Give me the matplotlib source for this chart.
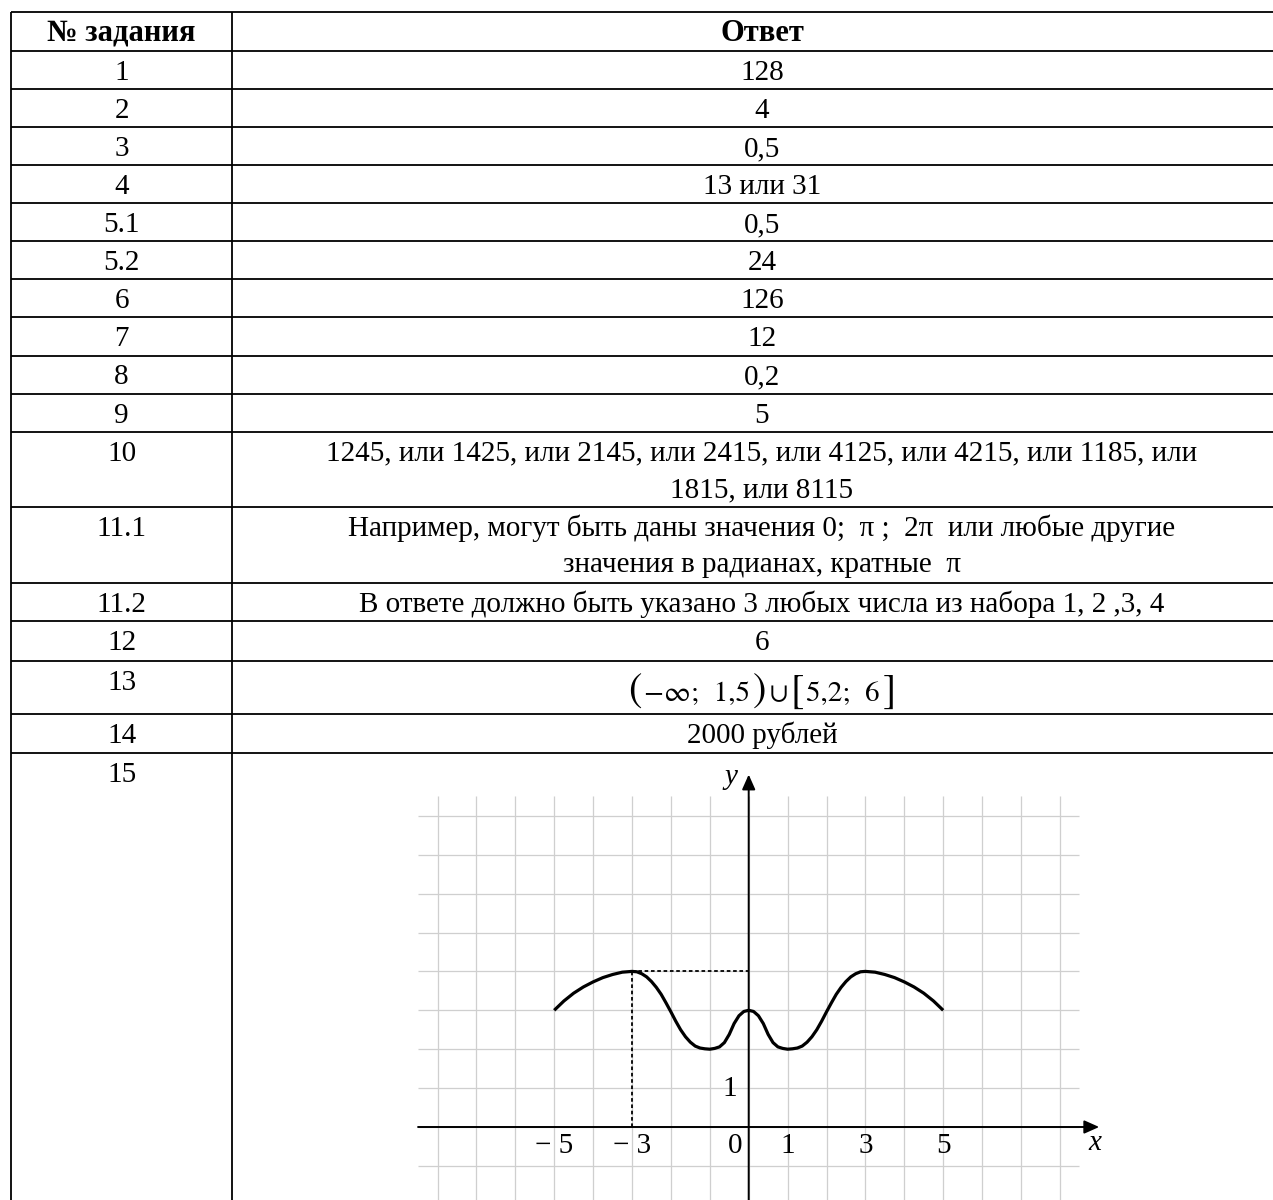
import matplotlib
matplotlib.use('Agg')
import matplotlib.pyplot as plt
from matplotlib.offsetbox import TextArea, HPacker, AnnotationBbox

plt.rcParams['font.family'] = ['Liberation Serif', 'DejaVu Serif']

# ---- table data ----
header = ['№ задания', 'Ответ']
tasks = ['1', '2', '3', '4', '5.1', '5.2', '6', '7', '8', '9', '10',
         '11.1', '11.2', '12', '13', '14', '15']
answers = ['128', '4', '0,5', '13 или 31', '0,5', '24', '126', '12', '0,2', '5',
           '1245, или 1425, или 2145, или 2415, или 4125, или 4215, или 1185, или\n1815, или 8115',
           'Например, могут быть даны значения 0;  π ;  2π  или любые другие\nзначения в радианах, кратные  π',
           'В ответе должно быть указано 3 любых числа из набора 1, 2 ,3, 4',
           '6',
           None,
           '2000 рублей',
           '']
# answer 13 is a formula: (−∞; 1,5)∪[5,2; 6] with tall brackets
formula_parts = ['(', '−∞;  1,5', ')', '∪', '[', '5,2;  6', ']']
formula_big = [True, False, True, False, True, False, True]

# ---- graph of task 15 ----
curve_x = [-5, -4.75, -4.5, -4.25, -4, -3.75, -3.5, -3.25, -3, -2.875, -2.75, -2.625,
           -2.5, -2.375, -2.25, -2.125, -2, -1.875, -1.75, -1.625, -1.5, -1.375,
           -1.25, -1.125, -1, -0.875, -0.75, -0.625, -0.5, -0.375, -0.25, -0.125, 0,
           0.125, 0.25, 0.375, 0.5, 0.625, 0.75, 0.875, 1, 1.125, 1.25, 1.375, 1.5,
           1.625, 1.75, 1.875, 2, 2.125, 2.25, 2.375, 2.5, 2.625, 2.75, 2.875, 3,
           3.25, 3.5, 3.75, 4, 4.25, 4.5, 4.75, 5]
curve_y = [3.0, 3.24, 3.44, 3.6, 3.73, 3.84, 3.92, 3.98, 4.0, 3.99, 3.94, 3.86,
           3.74, 3.59, 3.41, 3.19, 2.96, 2.72, 2.5, 2.32, 2.18, 2.08,
           2.03, 2.01, 2.0, 2.02, 2.06, 2.17, 2.38, 2.66, 2.86, 2.97, 3.0,
           2.97, 2.86, 2.66, 2.38, 2.17, 2.06, 2.02, 2.0, 2.01, 2.03, 2.08, 2.18,
           2.32, 2.5, 2.72, 2.96, 3.19, 3.41, 3.59, 3.74, 3.86, 3.94, 3.99, 4.0,
           3.98, 3.92, 3.84, 3.73, 3.6, 3.44, 3.24, 3.0]
peak_x, peak_y = -3, 4
x_ticks = [-5, -3, 0, 1, 3, 5]
x_tick_labels = ['− 5', '− 3', '0', '1', '3', '5']
y_ticks = [1]
y_tick_labels = ['1']

W, H = 1273, 1200
fig = plt.figure(figsize=(W / 100, H / 100), dpi=100)

# table drawn in pixel coordinates
ax0 = fig.add_axes([0, 0, 1, 1])
ax0.set_xlim(0, W)
ax0.set_ylim(H, 0)
ax0.axis('off')

left, mid = 11, 232.3
row_h = [38.7] + [38.1] * 10 + [75, 76.6, 38, 39.4, 53.6, 38.4]
tops = [12]
for h in row_h:
    tops.append(tops[-1] + h)

lw = 1.3
ax0.hlines(tops, left, W, color='black', lw=lw)
ax0.vlines([left, mid], tops[0], H, color='black', lw=lw)

c1 = (left + mid) / 2
c2 = 762
fs = 21
ax0.text(c1, tops[0] + 29, header[0], ha='center', va='baseline', fontsize=22, fontweight='bold')
ax0.text(c2, tops[0] + 29, header[1], ha='center', va='baseline', fontsize=22, fontweight='bold')

line_gap = 36.5
for i, (t, a) in enumerate(zip(tasks, answers)):
    top = tops[i + 1]
    ax0.text(c1, top + 29, t, ha='center', va='baseline', fontsize=fs)
    if a is None:
        boxes = [TextArea(p, textprops=dict(fontsize=29 if big else 21,
                                            family=['STIXGeneral', 'DejaVu Serif']))
                 for p, big in zip(formula_parts, formula_big)]
        pack = HPacker(children=boxes, align='baseline', pad=0, sep=2)
        ab = AnnotationBbox(pack, (c2, top + 31), xycoords='data', frameon=False,
                            box_alignment=(0.5, 0.5), pad=0)
        ax0.add_artist(ab)
        continue
    for j, ln in enumerate(a.split('\n')):
        ax0.text(c2, top + 29 + j * line_gap, ln, ha='center', va='baseline', fontsize=fs)

# graph axes, 1 unit = unit px
unit = 38.9
ox, oy = 748.7, 1127
gl, gr, gt, gb = 400, 1120, 765, H
ax = fig.add_axes([gl / W, 1 - gb / H, (gr - gl) / W, (gb - gt) / H])
ax.set_xlim((gl - ox) / unit, (gr - ox) / unit)
ax.set_ylim((oy - gb) / unit, (oy - gt) / unit)
ax.axis('off')
ax.patch.set_alpha(0)

ybot = (oy - gb) / unit
ax.vlines(range(-8, 9), ybot, 8.5, color='#cfcfcf', lw=0.9, zorder=1)
ax.hlines(range(-1, 9), -8.5, 8.5, color='#cfcfcf', lw=0.9, zorder=1)

arrow = dict(arrowstyle='-|>,head_length=0.45,head_width=0.2', color='black',
             lw=1.4, mutation_scale=20, shrinkA=0, shrinkB=0)
ax.annotate('', xy=(9.01, 0), xytext=(-8.5, 0), arrowprops=arrow, zorder=3)
ax.annotate('', xy=(0, 9.06), xytext=(0, ybot), arrowprops=arrow, zorder=3)

ax.plot([peak_x, peak_x], [0, peak_y], color='black', lw=1.3, ls=(0, (2, 1.5)), zorder=2)
ax.plot([peak_x, 0], [peak_y, peak_y], color='black', lw=1.3, ls=(0, (2, 1.5)), zorder=2)
ax.plot(curve_x, curve_y, color='black', lw=2.3, solid_joinstyle='round',
        solid_capstyle='butt', zorder=4)

tfs = 21
for xv, lab in zip(x_ticks, x_tick_labels):
    if xv == 0:
        ax.text(-0.17, -0.5, lab, ha='right', va='center', fontsize=tfs)
    else:
        ax.text(xv, -0.5, lab, ha='center', va='center', fontsize=tfs)
for yv, lab in zip(y_ticks, y_tick_labels):
    ax.text(-0.29, yv - 0.03, lab, ha='right', va='center', fontsize=tfs)

ax.text(8.9, -0.4, 'x', ha='center', va='center', fontsize=tfs, fontstyle='italic')
ax.text(-0.45, 9.0, 'y', ha='center', va='center', fontsize=tfs, fontstyle='italic')

fig.savefig('out.png', dpi=100)
